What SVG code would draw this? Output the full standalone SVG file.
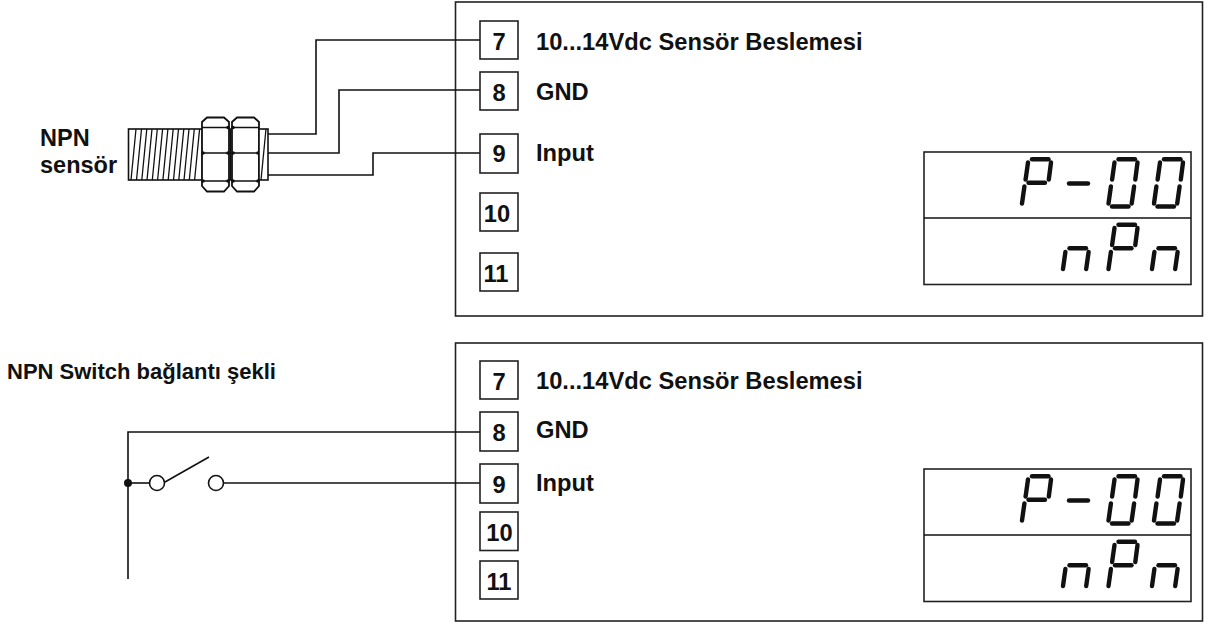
<svg xmlns="http://www.w3.org/2000/svg" width="1217" height="625" viewBox="0 0 1217 625">
<style>
.box{fill:#fff;stroke:#222;stroke-width:1.6}
.t{font-family:"Liberation Sans",Arial,sans-serif;font-weight:700;font-size:23.700px;fill:#111}
.n{text-anchor:middle}
.w{fill:none;stroke:#111;stroke-width:1.6}
.s{fill:none;stroke:#111;stroke-width:4.400;stroke-linecap:round}
.h{fill:none;stroke:#111;stroke-width:1.3}
.nut{fill:#fff;stroke:#111;stroke-width:1.8}
</style>
<defs>
<path id="sa" class="s" d="M12 1.800H28.500"/>
<path id="sb" class="s" d="M31 5L28.800 22"/>
<path id="sc" class="s" d="M27.600 29L25.200 46"/>
<path id="sd" class="s" d="M5.500 49H22"/>
<path id="se" class="s" d="M2 46L4.400 29"/>
<path id="sf" class="s" d="M5.600 22L8 5"/>
<path id="sg" class="s" d="M8.500 25.200H25"/>
<g id="d0"><use href="#sa"/><use href="#sb"/><use href="#sc"/><use href="#sd"/><use href="#se"/><use href="#sf"/></g>
<g id="dP"><use href="#sa"/><use href="#sb"/><use href="#se"/><use href="#sf"/><use href="#sg"/></g>
<g id="dn"><use href="#sc"/><use href="#se"/><use href="#sg"/></g>
<g id="display">
<rect class="box" x="0" y="0" width="267" height="132.500"/>
<path class="w" d="M0 66H267"/>
<use href="#dP" x="96" y="5.500"/>
<path class="s" d="M145 31.500H164"/>
<use href="#d0" x="182.500" y="5.500"/>
<use href="#d0" x="228" y="5.500"/>
<use href="#dn" x="137" y="71"/>
<use href="#dP" x="182.500" y="71"/>
<use href="#dn" x="226" y="71"/>
</g>
</defs>
<rect width="1217" height="625" fill="#fff"/>

<g id="panel-top">
<rect class="box" x="455.500" y="2" width="747" height="314"/>
<text class="t" x="536" y="50">10...14Vdc Sensör Beslemesi</text>
<text class="t" x="536" y="100">GND</text>
<text class="t" x="536" y="161">Input</text>
</g>
<g id="panel-bottom">
<rect class="box" x="455.500" y="343" width="747" height="278"/>
<text class="t" x="536" y="389">10...14Vdc Sensör Beslemesi</text>
<text class="t" x="536" y="438">GND</text>
<text class="t" x="536" y="491">Input</text>
</g>

<g id="connectors">
<path class="w" d="M268 134H316V40H480"/>
<path class="w" d="M268 153H339V90H480"/>
<path class="w" d="M268 175H373V153H480"/>
<path class="w" d="M128 579V432H480"/>
<path class="w" d="M128 483H149.500"/>
<path class="w" d="M165 482L209 457"/>
<path class="w" d="M223.500 483H480"/>
</g>

<g id="t7a"><rect class="box" x="480" y="21" width="38" height="38"/><text class="t n" x="499" y="50">7</text></g>
<g id="t8a"><rect class="box" x="480" y="72" width="38" height="38"/><text class="t n" x="499" y="101">8</text></g>
<g id="t9a"><rect class="box" x="480" y="134" width="38" height="39"/><text class="t n" x="499" y="162">9</text></g>
<g id="t10a"><rect class="box" x="480" y="193" width="38" height="38"/><text class="t n" x="497" y="222">10</text></g>
<g id="t11a"><rect class="box" x="480" y="253" width="38" height="38"/><text class="t n" x="496" y="282">11</text></g>
<g id="display-top"><use href="#display" x="924" y="152"/></g>

<g id="sensor">
<rect x="128.500" y="129" width="74" height="51" fill="#fff" stroke="#111" stroke-width="1.6"/>
<path class="h" d="M131 180L136 129M136.500 180L141.500 129M141.800 180L146.800 129M147 180L152 129M152.300 180L157.300 129M157.600 180L162.600 129M162.900 180L167.900 129M168.200 180L173.200 129M173.500 180L178.500 129M178.800 180L183.800 129M184 180L189 129M189.300 180L194.300 129M194.600 180L199.600 129"/>
<path class="nut" d="M207 117.500H224L229 122V186L224 191.500H207L202 186V122Z"/>
<path class="h" d="M202 127.500H229M202 153H229M202 181H229"/>
<path class="nut" d="M237 117.500H254L259 122V186L254 191.500H237L232 186V122Z"/>
<path class="h" d="M232 127.500H259M232 153H259M232 181H259"/>
<path class="w" d="M229 129H232M229 180H232M230.500 129V180"/>
<g fill="#111"><circle cx="203" cy="153" r="1.800"/><circle cx="228" cy="153" r="1.800"/><circle cx="233" cy="153" r="1.800"/><circle cx="258" cy="153" r="1.800"/><circle cx="203" cy="181" r="1.800"/><circle cx="228" cy="181" r="1.800"/><circle cx="233" cy="181" r="1.800"/><circle cx="258" cy="181" r="1.800"/><circle cx="228" cy="127.500" r="1.800"/><circle cx="233" cy="127.500" r="1.800"/></g>
<rect x="259" y="129" width="9" height="51" fill="#fff" stroke="#111" stroke-width="1.6"/>
<path class="h" d="M261 180L266 129"/>
<text class="t" x="40" y="146" style="font-size:23.500px">NPN</text>
<text class="t" x="40" y="173" style="font-size:23.500px">sensör</text>
</g>

<g id="switch-title"><text class="t" x="7" y="379" style="font-size:22px">NPN Switch bağlantı şekli</text></g>
<g id="switch">
<circle cx="128" cy="483" r="4" fill="#111"/>
<circle cx="157" cy="483" r="7.500" fill="#fff" stroke="#111" stroke-width="1.6"/>
<circle cx="216" cy="483" r="7.500" fill="#fff" stroke="#111" stroke-width="1.6"/>
</g>

<g id="t7b"><rect class="box" x="480" y="361" width="38" height="38"/><text class="t n" x="499" y="390">7</text></g>
<g id="t8b"><rect class="box" x="480" y="412" width="38" height="39"/><text class="t n" x="499" y="441">8</text></g>
<g id="t9b"><rect class="box" x="480" y="464" width="38" height="39"/><text class="t n" x="499" y="493">9</text></g>
<g id="t10b"><rect class="box" x="480" y="512" width="38" height="38.500"/><text class="t n" x="499.500" y="541">10</text></g>
<g id="t11b"><rect class="box" x="480" y="561" width="38" height="38"/><text class="t n" x="499" y="590">11</text></g>
<g id="display-bottom"><use href="#display" x="924" y="469"/></g>
</svg>
